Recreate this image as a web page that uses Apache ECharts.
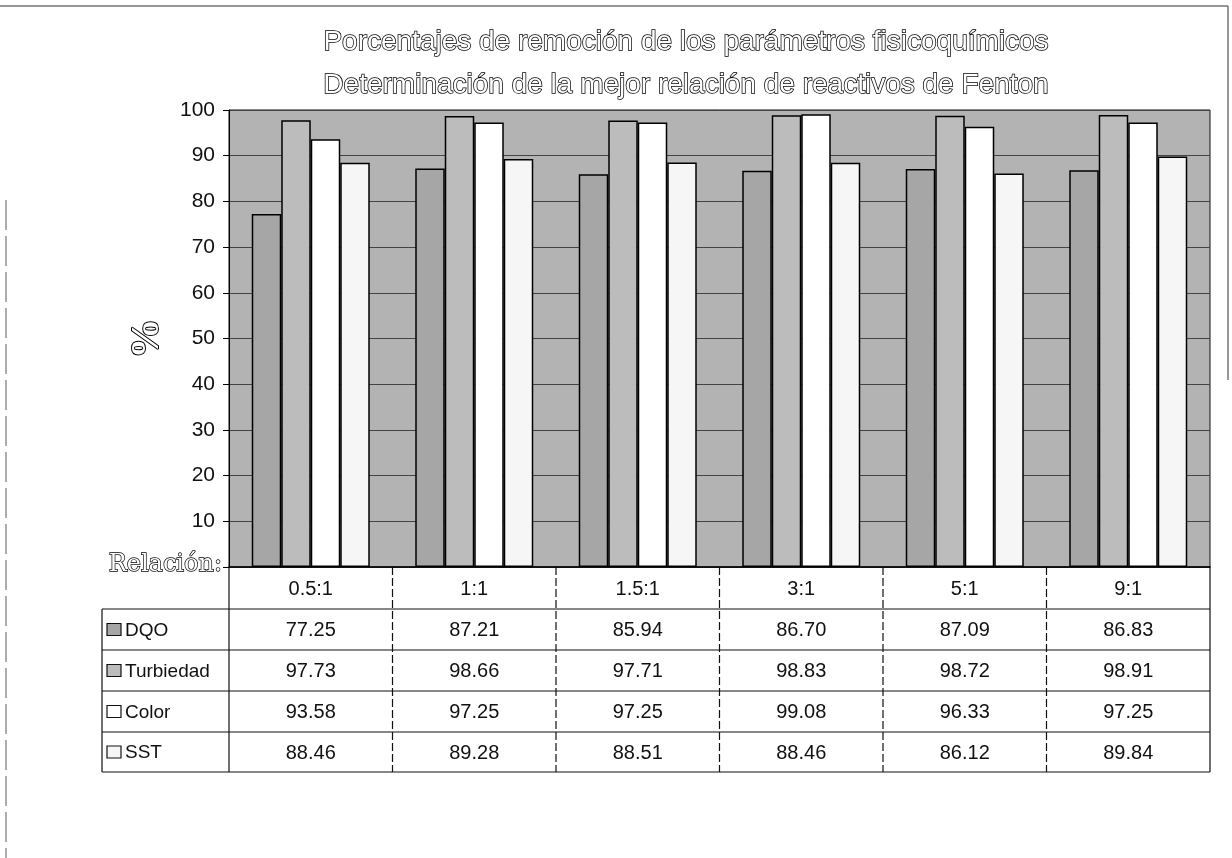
<!DOCTYPE html>
<html>
<head>
<meta charset="utf-8">
<script src="https://cdn.jsdelivr.net/npm/echarts@6/dist/echarts.min.js"></script>
<style>html,body{margin:0;padding:0;background:#fff;}#c{width:1232px;height:858px;}</style>
</head>
<body>
<div id="c"></div>
<script>
const categories = ['0.5:1', '1:1', '1.5:1', '3:1', '5:1', '9:1'];
const dqo = [77.25, 87.21, 85.94, 86.70, 87.09, 86.83];
const turbiedad = [97.73, 98.66, 97.71, 98.83, 98.72, 98.91];
const colorVals = [93.58, 97.25, 97.25, 99.08, 96.33, 97.25];
const sst = [88.46, 89.28, 88.51, 88.46, 86.12, 89.84];
const seriesNames = ['DQO', 'Turbiedad', 'Color', 'SST'];
const seriesColors = ['#a6a6a6', '#bcbcbc', '#ffffff', '#f6f6f6'];
const yTicks = [0, 10, 20, 30, 40, 50, 60, 70, 80, 90, 100];

const allSeries = [dqo, turbiedad, colorVals, sst];
const chart = echarts.init(document.getElementById('c'));
const outline = {color: '#fff', textBorderColor: '#000', textBorderWidth: 1.5};

chart.setOption({
  animation: false,
  backgroundColor: '#fff',
  title: {
    text: 'Porcentajes de remoción de los parámetros fisicoquímicos\nDeterminación de la mejor relación de reactivos de Fenton',
    left: 681, top: 16, textAlign: 'center',
    textStyle: Object.assign({fontFamily: 'Liberation Sans, Arial', fontSize: 28, fontWeight: 'normal', lineHeight: 43}, outline)
  },
  grid: {left: 229, right: 22, top: 110, bottom: 291, show: true, backgroundColor: '#b3b3b3', borderColor: '#111', borderWidth: 1},
  xAxis: {
    type: 'category', data: categories,
    axisLine: {lineStyle: {color: '#000', width: 1.5}},
    axisTick: {show: false},
    axisLabel: {fontFamily: 'Liberation Sans, Arial', fontSize: 20, color: '#111', margin: 12}
  },
  yAxis: {
    type: 'value', min: yTicks[0], max: yTicks[yTicks.length - 1], interval: 10,
    name: '%', nameLocation: 'middle', nameRotate: 90, nameGap: 47,
    nameTextStyle: {fontFamily: 'Liberation Serif, Times New Roman', fontSize: 40, fontWeight: 'bold', color: '#fff', textBorderColor: '#000', textBorderWidth: 2},
    axisLine: {show: true, lineStyle: {color: '#000', width: 1}},
    axisTick: {show: true, length: 6, lineStyle: {color: '#000'}},
    axisLabel: {fontFamily: 'Liberation Sans, Arial', fontSize: 21, color: '#111', margin: 14,
      formatter: v => (v === 0 ? '' : String(v))},
    splitLine: {show: true, lineStyle: {color: '#444', width: 1.2}}
  },
  series: allSeries.map((d, k) => ({
    name: seriesNames[k], type: 'bar', data: d,
    barWidth: 29.5, barGap: '0%',
    itemStyle: {color: seriesColors[k], borderColor: '#000', borderWidth: 1.5}
  }))
});

// Data table under the chart
const cx = i => chart.convertToPixel({xAxisIndex: 0}, i);
const band = cx(1) - cx(0);
const y0 = chart.convertToPixel({yAxisIndex: 0}, 0);
const rowH = [42, 41, 41, 41, 40];
const rowY = [y0];
rowH.forEach(h => rowY.push(rowY[rowY.length - 1] + h));
const tableLeft = 102;
const colX = categories.map((c, i) => cx(i) - band / 2);
colX.push(cx(categories.length - 1) + band / 2);
const g = [];
const lineStyle = {stroke: '#111', lineWidth: 1.2};
for (let r = 1; r < rowY.length; r++) {
  g.push({type: 'line', shape: {x1: tableLeft, y1: rowY[r], x2: colX[colX.length - 1], y2: rowY[r]}, style: lineStyle, silent: true});
}
colX.forEach((x, i) => {
  g.push({type: 'line', shape: {x1: x, y1: rowY[0], x2: x, y2: rowY[rowY.length - 1]}, style: Object.assign({}, lineStyle, (i === 0 || i === colX.length - 1) ? {} : {lineDash: [8, 3]}), silent: true});
});
g.push({type: 'line', shape: {x1: tableLeft, y1: rowY[1], x2: tableLeft, y2: rowY[rowY.length - 1]}, style: lineStyle, silent: true});
seriesNames.forEach((name, k) => {
  const cy = (rowY[k + 1] + rowY[k + 2]) / 2;
  g.push({type: 'rect', shape: {x: tableLeft + 5, y: cy - 6, width: 14, height: 12}, style: {fill: seriesColors[k], stroke: '#111', lineWidth: 1.2}, silent: true});
  g.push({type: 'text', x: tableLeft + 23, y: cy + 1, style: {text: name, font: '19px "Liberation Sans", Arial', fill: '#111', align: 'left', verticalAlign: 'middle'}, silent: true});
  allSeries[k].forEach((v, i) => {
    g.push({type: 'text', x: cx(i), y: cy + 1, style: {text: v.toFixed(2), font: '20px "Liberation Sans", Arial', fill: '#111', align: 'center', verticalAlign: 'middle'}, silent: true});
  });
});
g.push({type: 'text', x: colX[0] - 7, y: y0 - 2, style: {text: 'Relación:', font: '24px "DejaVu Serif", "Liberation Serif"', fill: '#fff', stroke: '#000', lineWidth: 1.4, align: 'right', verticalAlign: 'middle'}, silent: true});
// page frame (scan border)
g.push({type: 'line', shape: {x1: 0, y1: 6, x2: 1228, y2: 6}, style: {stroke: '#333', lineWidth: 1.2}, silent: true});
g.push({type: 'line', shape: {x1: 6, y1: 200, x2: 6, y2: 858}, style: {stroke: '#777', lineWidth: 1.2, lineDash: [30, 6]}, silent: true});
g.push({type: 'line', shape: {x1: 1228, y1: 6, x2: 1228, y2: 380}, style: {stroke: '#555', lineWidth: 1.2}, silent: true});

chart.setOption({graphic: g});
</script>
</body>
</html>
